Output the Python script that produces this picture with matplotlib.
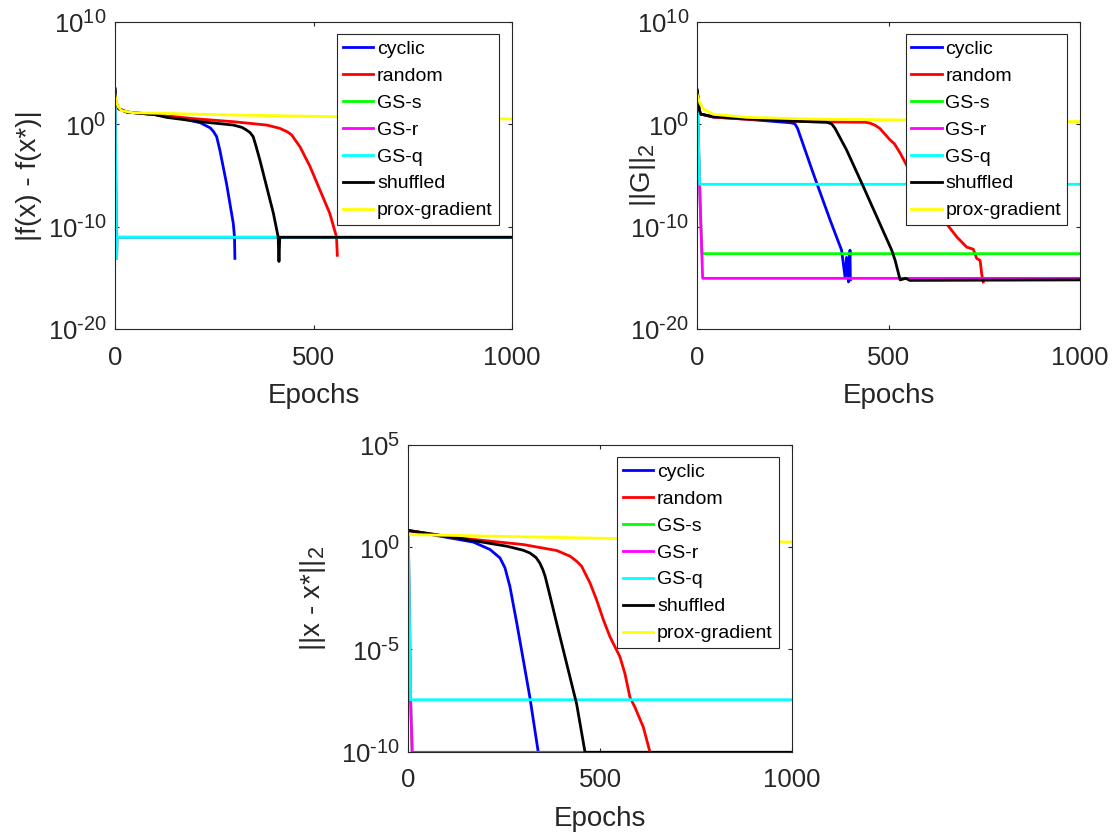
import numpy as np
import matplotlib
matplotlib.use("Agg")
import matplotlib.pyplot as plt
import matplotlib._mathtext as _mt
from matplotlib.ticker import FixedLocator, FixedFormatter

_mt.SHRINK_FACTOR = 0.78

plt.rcParams['font.family'] = ['Liberation Sans', 'DejaVu Sans']
plt.rcParams['mathtext.fontset'] = 'custom'
plt.rcParams['mathtext.rm'] = 'Liberation Sans'
plt.rcParams['mathtext.it'] = 'Liberation Sans:italic'
plt.rcParams['mathtext.default'] = 'regular'

# ---------------- data (epochs, log10 of value) ----------------
labels = ['cyclic', 'random', 'GS-s', 'GS-r', 'GS-q', 'shuffled', 'prox-gradient']
colors = ['#0000ff', '#ff0000', '#00ff00', '#ff00ff', '#00ffff', '#000000', '#ffff00']

# Panel 1: |f(x) - f(x*)|
p1_cyclic_ep = [0, 2, 10, 30, 100, 170, 215, 240, 248, 256, 264, 281, 298, 301, 302]
p1_cyclic_lg = [3.4, 2.2, 1.5, 1.2, 0.95, 0.55, 0.15, -0.35, -0.7, -1.2, -2.5, -5.8, -9.7, -11.0, -13.1]
p1_random_ep = [0, 2, 10, 30, 100, 200, 300, 382, 415, 435, 445, 466, 491, 516, 541, 558, 560]
p1_random_lg = [3.4, 2.2, 1.5, 1.2, 0.95, 0.55, 0.25, -0.07, -0.39, -0.75, -1.04, -2.2, -4.1, -6.4, -8.7, -11.0, -12.8]
p1_gss_ep = [0, 4, 5, 1000]
p1_gss_lg = [3.0, -13.1, -11.04, -11.04]
p1_gsr_ep = [0, 4, 5, 1000]
p1_gsr_lg = [3.0, -13.1, -11.04, -11.04]
p1_gsq_ep = [0, 4, 5, 1000]
p1_gsq_lg = [3.0, -13.1, -11.04, -11.04]
p1_shuf_ep = [0, 2, 10, 30, 100, 130, 214, 298, 320, 331, 340, 348, 355, 365, 382, 399, 411, 413, 415, 1000]
p1_shuf_lg = [3.5, 2.2, 1.5, 1.2, 0.95, 0.68, 0.26, -0.07, -0.3, -0.55, -0.8, -1.2, -2.1, -3.5, -6.1, -8.7, -11.0, -13.4, -11.04, -11.04]
p1_prox_ep = [0, 3, 8, 16, 45, 298, 550, 1000]
p1_prox_lg = [2.87, 2.2, 1.73, 1.34, 1.14, 0.91, 0.75, 0.52]

# Panel 2: ||G||_2
p2_cyclic_ep = [0, 5, 9, 42, 129, 245, 255, 262, 303, 347, 377, 386, 390, 395, 399, 400]
p2_cyclic_lg = [3.2, 1.4, 1.0, 0.7, 0.5, 0.15, 0.05, -0.4, -4.8, -9.35, -12.3, -14.9, -13.0, -15.4, -12.3, -15.2]
p2_random_ep = [0, 5, 9, 42, 129, 300, 440, 451, 465, 477, 490, 503, 515, 530, 547, 600, 651, 678, 704, 721, 730, 739, 743, 747]
p2_random_lg = [3.2, 1.4, 1.0, 0.72, 0.5, 0.25, 0.2, 0.12, -0.1, -0.4, -0.95, -1.5, -1.9, -2.8, -4.0, -6.8, -9.7, -11.0, -12.0, -12.2, -13.1, -13.3, -14.6, -15.4]
p2_gss_ep = [0, 6, 12, 1000]
p2_gss_lg = [2.9, -6.0, -12.64, -12.64]
p2_gsr_ep = [0, 6, 14, 1000]
p2_gsr_lg = [2.9, -6.0, -15.05, -15.05]
p2_gsq_ep = [0, 6, 1000]
p2_gsq_lg = [2.9, -5.86, -5.86]
p2_shuf_ep = [0, 5, 9, 42, 129, 216, 338, 351, 360, 390, 434, 477, 508, 517, 530, 545, 555, 1000]
p2_shuf_lg = [3.36, 1.4, 1.0, 0.75, 0.55, 0.36, 0.2, 0.05, -0.4, -2.5, -6.1, -9.7, -12.3, -13.3, -15.2, -15.05, -15.25, -15.2]
p2_prox_ep = [0, 7, 16, 42, 129, 303, 564, 1000]
p2_prox_lg = [2.87, 2.05, 1.5, 0.98, 0.68, 0.52, 0.42, 0.26]

# Panel 3: ||x - x*||_2
p3_cyclic_ep = [0, 83, 170, 213, 239, 252, 265, 283, 300, 317, 339]
p3_cyclic_lg = [0.82, 0.54, 0.25, -0.11, -0.52, -1.0, -1.92, -3.72, -5.52, -7.33, -10.03]
p3_random_ep = [0, 126, 213, 300, 387, 422, 440, 452, 474, 491, 509, 526, 552, 565, 578, 591, 613, 630]
p3_random_lg = [0.82, 0.46, 0.3, 0.13, -0.16, -0.44, -0.7, -0.93, -1.75, -2.57, -3.56, -4.38, -5.36, -6.18, -7.33, -7.82, -8.8, -10.0]
p3_gss_ep = [0, 6, 10, 1000]
p3_gss_lg = [0.7, -7.4, -10.03, -10.03]
p3_gsr_ep = [0, 6, 10, 1000]
p3_gsr_lg = [0.7, -7.4, -10.03, -10.03]
p3_gsq_ep = [0, 6, 1000]
p3_gsq_lg = [0.7, -7.46, -7.46]
p3_shuf_ep = [0, 126, 257, 300, 317, 333, 343, 351, 357, 370, 387, 413, 439, 461, 1000]
p3_shuf_lg = [0.82, 0.46, 0.05, -0.15, -0.28, -0.5, -0.77, -1.1, -1.43, -2.41, -3.72, -5.69, -7.66, -10.03, -10.03]
p3_prox_ep = [0, 500, 1000]
p3_prox_lg = [0.62, 0.44, 0.25]

ytl_top = ['$10^{\\text{-}20}$', '$10^{\\text{-}10}$', '$10^{0}$', '$10^{10}$']
ytl_bot = ['$10^{\\text{-}10}$', '$10^{\\text{-}5}$', '$10^{0}$', '$10^{5}$']

panels = [
    dict(rect=[115/1114, (836-329)/836, 397/1114, 307/836],
         series=[(p1_cyclic_ep, p1_cyclic_lg), (p1_random_ep, p1_random_lg), (p1_gss_ep, p1_gss_lg),
                 (p1_gsr_ep, p1_gsr_lg), (p1_gsq_ep, p1_gsq_lg), (p1_shuf_ep, p1_shuf_lg), (p1_prox_ep, p1_prox_lg)],
         ylim=(1e-20, 1e10), yticks=[1e-20, 1e-10, 1e0, 1e10], yticklabels=ytl_top,
         ylabel='|f(x) - f(x*)|', ylabx=-0.184),
    dict(rect=[697.3/1114, (836-329)/836, 382.7/1114, 307/836],
         series=[(p2_cyclic_ep, p2_cyclic_lg), (p2_random_ep, p2_random_lg), (p2_gss_ep, p2_gss_lg),
                 (p2_gsr_ep, p2_gsr_lg), (p2_gsq_ep, p2_gsq_lg), (p2_shuf_ep, p2_shuf_lg), (p2_prox_ep, p2_prox_lg)],
         ylim=(1e-20, 1e10), yticks=[1e-20, 1e-10, 1e0, 1e10], yticklabels=ytl_top,
         ylabel='||G||$_2$', ylabx=-0.103),
    dict(rect=[408.3/1114, (836-751.7)/836, 383.4/1114, 306.7/836],
         series=[(p3_cyclic_ep, p3_cyclic_lg), (p3_random_ep, p3_random_lg), (p3_gss_ep, p3_gss_lg),
                 (p3_gsr_ep, p3_gsr_lg), (p3_gsq_ep, p3_gsq_lg), (p3_shuf_ep, p3_shuf_lg), (p3_prox_ep, p3_prox_lg)],
         ylim=(1e-10, 1e5), yticks=[1e-10, 1e-5, 1e0, 1e5], yticklabels=ytl_bot,
         ylabel='||x - x*||$_2$', ylabx=-0.209),
]

fig = plt.figure(figsize=(11.14, 8.36), dpi=100)
tc = '#262626'
for p in panels:
    ax = fig.add_axes(p['rect'])
    for (ep, lg), lab, col in zip(p['series'], labels, colors):
        ax.plot(ep, np.power(10.0, lg), color=col, lw=2, label=lab)
    ax.set_yscale('log')
    ax.set_xlim(0, 1000)
    ax.set_ylim(*p['ylim'])
    ax.yaxis.set_major_locator(FixedLocator(p['yticks']))
    ax.yaxis.set_major_formatter(FixedFormatter(p['yticklabels']))
    ax.minorticks_off()
    ax.set_xticks([0, 500, 1000])
    ax.tick_params(direction='in', length=3, width=0.8, top=True, right=True,
                   labelsize=18.5, colors=tc, pad=6)
    ax.tick_params(axis='x', pad=12)
    for s in ax.spines.values():
        s.set_color(tc)
        s.set_linewidth(0.8)
    ax.set_xlabel('Epochs', fontsize=20, color=tc, labelpad=9.5)
    ax.set_ylabel(p['ylabel'], fontsize=20, color=tc)
    ax.yaxis.set_label_coords(p['ylabx'], 0.5)
    leg = ax.legend(loc='upper right', bbox_to_anchor=(0.966, 0.96), borderaxespad=0,
                    fontsize=14, frameon=True, fancybox=False, framealpha=1,
                    edgecolor=tc, borderpad=0.3, handlelength=1.55, handletextpad=0.2,
                    labelspacing=0.48)
    leg.get_frame().set_linewidth(0.8)

fig.savefig('out.png', dpi=100)
